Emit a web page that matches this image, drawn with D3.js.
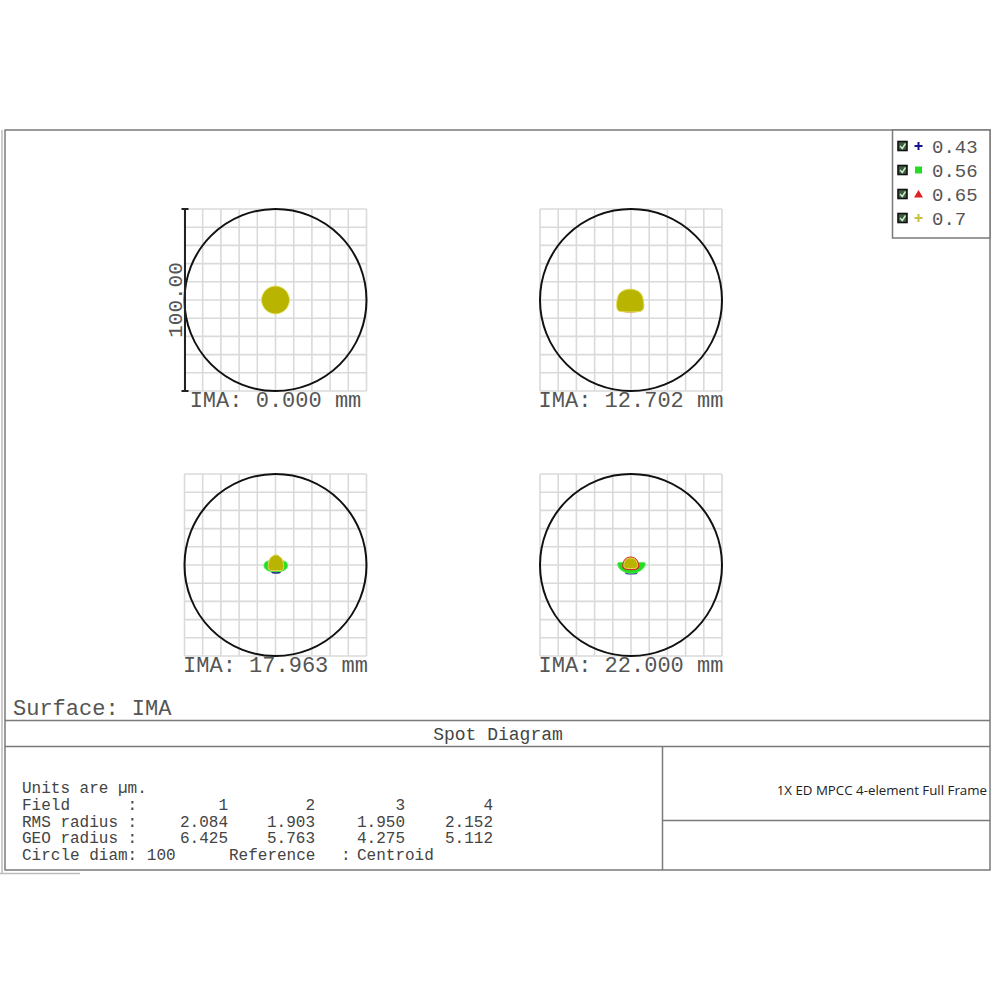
<!DOCTYPE html>
<html><head><meta charset="utf-8">
<script src="https://cdn.jsdelivr.net/npm/d3@7"></script>
<style>body{margin:0;background:#fff}svg{display:block}</style>
</head><body>
<script>
// ---------- data ----------
const wavelengths = ["0.43", "0.56", "0.65", "0.7"];
const wlColors = ["#14148c", "#22dd22", "#dd2222", "#b8b400"];
const wlMarkers = ["plus", "square", "triangle", "plus"];
const fieldLabels = ["IMA: 0.000 mm", "IMA: 12.702 mm", "IMA: 17.963 mm", "IMA: 22.000 mm"];
const fieldNumbers = ["1", "2", "3", "4"];
const rmsRadius = ["2.084", "1.903", "1.950", "2.152"];
const geoRadius = ["6.425", "5.763", "4.275", "5.112"];
const circleDiam = 100;           // µm
const gridTicks = [-50, -40, -30, -20, -10, 0, 10, 20, 30, 40, 50];
const scaleLabel = "100.00";
const surfaceLabel = "Surface: IMA";
const titleLabel = "Spot Diagram";
const lensTitle = "1X ED MPCC 4-element Full Frame";
const referenceLabel = "Centroid";

// spot outlines (µm, relative to centroid), per field, per wavelength
const spotField1 = [
  [[6,0],[4.2,4.2],[0,6],[-4.2,4.2],[-6,0],[-4.2,-4.2],[0,-6],[4.2,-4.2]],
  [[6.5,0],[4.6,4.6],[0,6.5],[-4.6,4.6],[-6.5,0],[-4.6,-4.6],[0,-6.5],[4.6,-4.6]],
  [[7,0],[4.9,4.9],[0,7],[-4.9,4.9],[-7,0],[-4.9,-4.9],[0,-7],[4.9,-4.9]],
  [[7.7,0],[5.4,5.4],[0,7.7],[-5.4,5.4],[-7.7,0],[-5.4,-5.4],[0,-7.7],[5.4,-5.4]]
];
const spotField2 = [
  [[-5.5,-4.5],[5.0,-4.5],[5.5,-1],[0,4],[-5.5,-1]],
  [[-6.2,-5.0],[5.6,-5.0],[6.2,-1],[0,5],[-6.2,-1]],
  [[-6.8,-5.4],[6.2,-5.4],[6.6,-1],[0,5.6],[-6.8,-1]],
  [[-7.6,-5.0],[-6.8,-6.0],[5.8,-6.0],[6.6,-5.0],[6.9,-1],[5.2,3.9],[-0.5,6.0],[-6.1,3.9],[-7.8,-1]]
];
const spotField3 = [
  [[-2.0,-3.4],[2.6,-3.4],[2.6,-4.2],[-2.0,-4.2]],
  [[-6.3,-0.8],[-5.5,1.6],[-3,2.4],[3.4,2.4],[5.8,1.6],[6.6,-0.8],[5.2,-2.6],[2.6,-3.6],[-2.2,-3.6],[-5,-2.6]],
  [[-3.5,-2.4],[3.9,-2.4],[4.0,0.6],[3.1,3.4],[0.3,5.3],[-2.6,3.4],[-3.6,0.6]],
  [[-3.8,-2.2],[-3.0,-2.8],[3.6,-2.8],[4.3,-2.2],[4.4,0.6],[3.4,3.6],[1.6,5.1],[0.3,5.5],[-1.2,5.1],[-3.0,3.6],[-3.9,0.6]]
];
const spotField4 = [
  [[-3.0,-3.9],[3.3,-3.9],[3.3,-4.6],[-3.0,-4.6]],
  [[-7.2,1.0],[-4,1.4],[4.5,1.4],[7.8,1.0],[7.2,-1.2],[5,-3.2],[2,-4.4],[-1.5,-4.4],[-4.8,-3.2],[-6.8,-1.2]],
  [[-4.2,-1.8],[4.0,-1.8],[3.9,1.4],[2.4,3.6],[-0.2,4.4],[-2.8,3.6],[-4.2,1.4]],
  [[-3.8,-1.2],[-3.0,-1.7],[2.8,-1.7],[3.5,-1.2],[3.4,1.0],[2.2,3.2],[-0.2,3.9],[-2.6,3.2],[-3.8,1.0]]
];
const spots = [spotField1, spotField2, spotField3, spotField4];

// ---------- layout ----------
const W = 1000, H = 1000;
const mono = "'Liberation Mono','Courier New',monospace";
const lineCol = "#7a7a7a";
const textCol = "#555";
const panelCenters = [[275.5, 300], [631, 300], [275.5, 565], [631, 565]];
const half = 91;

const svg = d3.select("body").append("svg").attr("width", W).attr("height", H);

// frame
const frame = svg.append("g").attr("fill", "none").attr("stroke", lineCol).attr("stroke-width", 1.5);
frame.append("rect").attr("x", 5).attr("y", 130).attr("width", 985).attr("height", 740);
frame.append("line").attr("x1", 2).attr("x2", 2).attr("y1", 130).attr("y2", 874).attr("stroke", "#bbb");
frame.append("line").attr("x1", 0).attr("x2", 80).attr("y1", 873.5).attr("y2", 873.5).attr("stroke", "#bbb");
frame.append("line").attr("x1", 5).attr("x2", 990).attr("y1", 720.5).attr("y2", 720.5);
frame.append("line").attr("x1", 5).attr("x2", 990).attr("y1", 746.5).attr("y2", 746.5);
frame.append("line").attr("x1", 662.5).attr("x2", 662.5).attr("y1", 746.5).attr("y2", 870);
frame.append("line").attr("x1", 662.5).attr("x2", 990).attr("y1", 820.5).attr("y2", 820.5);

// panels
const line = d3.line().curve(d3.curveCatmullRomClosed.alpha(0.5));
panelCenters.forEach(([cx, cy], fi) => {
  const x = d3.scaleLinear().domain([-circleDiam / 2, circleDiam / 2]).range([cx - half, cx + half]);
  const y = d3.scaleLinear().domain([-circleDiam / 2, circleDiam / 2]).range([cy + half, cy - half]);
  const g = svg.append("g");
  const grid = g.append("g").attr("stroke", "#dadada").attr("stroke-width", 1.6);
  grid.selectAll("line.v").data(gridTicks).join("line")
    .attr("x1", d => x(d)).attr("x2", d => x(d)).attr("y1", y(-50)).attr("y2", y(50));
  grid.selectAll("line.h").data(gridTicks).join("line")
    .attr("y1", d => y(d)).attr("y2", d => y(d)).attr("x1", x(-50)).attr("x2", x(50));
  g.append("circle").attr("cx", x(0)).attr("cy", y(0)).attr("r", x(circleDiam / 2) - x(0))
    .attr("fill", "none").attr("stroke", "#111").attr("stroke-width", 2);
  // spots
  spots[fi].forEach((pts, wi) => {
    g.append("path")
      .attr("d", line(pts.map(p => [x(p[0]), y(p[1])])))
      .attr("fill", wlColors[wi])
      .attr("stroke", wi === 3 ? "#e2e060" : wi === 1 ? "#55ee55" : wlColors[wi])
      .attr("stroke-width", wi === 0 ? 0.8 : 1);
  });
  g.append("text").attr("x", x(0)).attr("y", cy + 107)
    .attr("text-anchor", "middle").attr("font-family", mono).attr("font-size", 22)
    .attr("fill", textCol).text(fieldLabels[fi]);
  if (fi === 0) {
    const bx = x(-50) + 0.5;
    const sb = g.append("g").attr("stroke", "#222").attr("stroke-width", 2);
    sb.append("line").attr("x1", bx).attr("x2", bx).attr("y1", y(50)).attr("y2", y(-50));
    sb.append("line").attr("x1", bx - 3.5).attr("x2", bx + 3.5).attr("y1", y(50)).attr("y2", y(50));
    sb.append("line").attr("x1", bx - 3.5).attr("x2", bx + 3.5).attr("y1", y(-50)).attr("y2", y(-50));
    g.append("text").attr("transform", `translate(${bx - 3},${y(0)}) rotate(-90)`)
      .attr("text-anchor", "middle").attr("font-family", mono).attr("font-size", 21)
      .attr("fill", textCol).text(scaleLabel);
  }
});

// legend
const lg = svg.append("g");
lg.append("rect").attr("x", 892.5).attr("y", 130).attr("width", 97.5).attr("height", 108)
  .attr("fill", "#fff").attr("stroke", lineCol).attr("stroke-width", 1.5);
wavelengths.forEach((w, i) => {
  const yy = 146 + i * 24;
  lg.append("rect").attr("x", 898).attr("y", yy - 4.5).attr("width", 9).attr("height", 9)
    .attr("fill", "#3c5e3c").attr("stroke", "#111").attr("stroke-width", 1.6);
  lg.append("path").attr("d", `M${900},${yy} L${902.3},${yy + 2.5} L${905.5},${yy - 2.5}`)
    .attr("fill", "none").attr("stroke", "#cfeecf").attr("stroke-width", 1.4);
  const mx = 918.5;
  const col = i === 3 ? "#c8c040" : wlColors[i];
  if (wlMarkers[i] === "plus") {
    lg.append("path").attr("d", `M${mx - 4},${yy} H${mx + 4} M${mx},${yy - 4} V${yy + 4}`)
      .attr("stroke", col).attr("stroke-width", 2);
  } else if (wlMarkers[i] === "square") {
    lg.append("rect").attr("x", mx - 3.5).attr("y", yy - 3.5).attr("width", 7).attr("height", 7).attr("fill", col);
  } else {
    lg.append("path").attr("d", `M${mx},${yy - 4} L${mx + 4.5},${yy + 3.5} L${mx - 4.5},${yy + 3.5} Z`).attr("fill", col);
  }
  lg.append("text").attr("x", 932).attr("y", yy + 6.5).attr("font-family", mono).attr("font-size", 19)
    .attr("fill", textCol).text(w);
});

// labels
svg.append("text").attr("x", 13).attr("y", 715).attr("font-family", mono).attr("font-size", 22)
  .attr("fill", textCol).text(surfaceLabel);
svg.append("text").attr("x", 498).attr("y", 740).attr("text-anchor", "middle").attr("font-family", mono)
  .attr("font-size", 18).attr("fill", "#444").text(titleLabel);
svg.append("text").attr("x", 987).attr("y", 795).attr("text-anchor", "end")
  .attr("font-family", "'Open Sans',sans-serif").attr("font-size", 13.3).attr("fill", "#222").text(lensTitle);

// table
const tb = svg.append("g").attr("font-family", mono).attr("font-size", 16).attr("fill", "#444");
const rowY = [793, 810, 826.5, 843, 859.5];
const colRight = [228, 315, 405, 493];
const tx = 22;
tb.append("text").attr("x", tx).attr("y", rowY[0]).text("Units are µm.");
tb.append("text").attr("x", tx).attr("y", rowY[1]).style("white-space", "pre").text("Field      :");
tb.append("text").attr("x", tx).attr("y", rowY[2]).style("white-space", "pre").text("RMS radius :");
tb.append("text").attr("x", tx).attr("y", rowY[3]).style("white-space", "pre").text("GEO radius :");
[fieldNumbers, rmsRadius, geoRadius].forEach((arr, r) => {
  tb.selectAll(null).data(arr).join("text")
    .attr("x", (d, i) => colRight[i]).attr("y", rowY[r + 1]).attr("text-anchor", "end").text(d => d);
});
tb.append("text").attr("x", tx).attr("y", rowY[4]).text("Circle diam: " + circleDiam);
tb.append("text").attr("x", 229).attr("y", rowY[4]).text("Reference");
tb.append("text").attr("x", 341).attr("y", rowY[4]).text(":");
tb.append("text").attr("x", 357).attr("y", rowY[4]).text(referenceLabel);
</script>
</body></html>
